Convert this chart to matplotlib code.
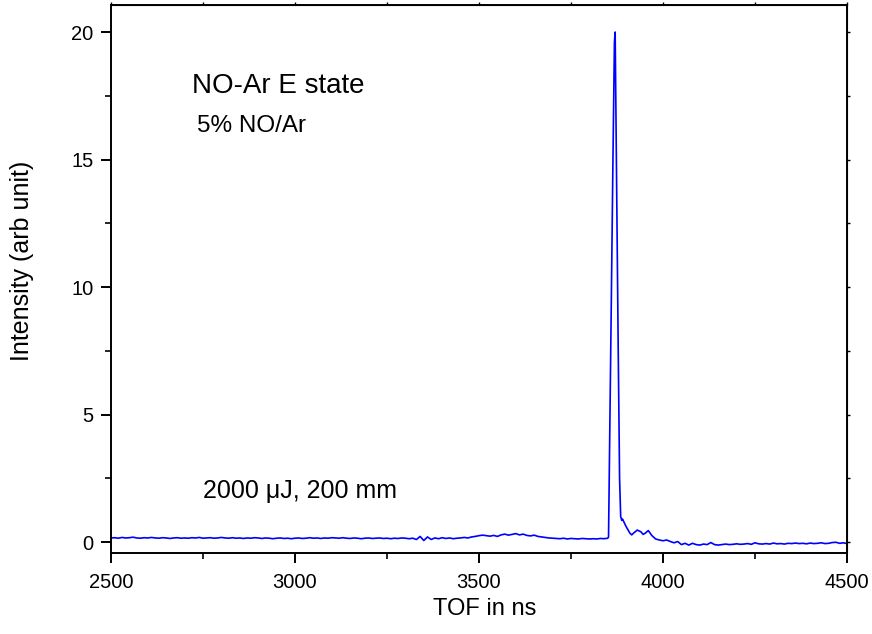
import matplotlib
matplotlib.use("Agg")
import matplotlib.pyplot as plt
from matplotlib.ticker import MultipleLocator

plt.rcParams['font.family'] = ['Liberation Sans', 'DejaVu Sans']

# ---- data ----
base_x = list(range(2500, 3860, 10))
base_y = [
    0.16, 0.17, 0.15, 0.18, 0.16, 0.17, 0.19, 0.16, 0.15, 0.17, 0.16,
    0.18, 0.16, 0.15, 0.17, 0.16, 0.14, 0.16, 0.17, 0.15, 0.16,
    0.15, 0.17, 0.16, 0.18, 0.15, 0.16, 0.17, 0.15, 0.16, 0.18,
    0.16, 0.15, 0.17, 0.15, 0.16, 0.14, 0.16, 0.15, 0.17, 0.16,
    0.14, 0.16, 0.15, 0.13, 0.15, 0.16, 0.14, 0.15, 0.13, 0.15,
    0.16, 0.14, 0.15, 0.17, 0.15, 0.16, 0.14, 0.16, 0.15, 0.17,
    0.16, 0.15, 0.17, 0.15, 0.14, 0.16, 0.15, 0.13, 0.15, 0.16,
    0.14, 0.15, 0.16, 0.14, 0.15, 0.13, 0.15, 0.14, 0.16, 0.15,
    0.13, 0.15, 0.10, 0.22, 0.06, 0.20, 0.10, 0.16, 0.13, 0.17,
    0.14, 0.16, 0.13, 0.15, 0.16, 0.18, 0.16, 0.20, 0.22, 0.25,
    0.27, 0.25, 0.23, 0.26, 0.22, 0.28, 0.31, 0.27, 0.30, 0.33,
    0.28, 0.31, 0.26, 0.24, 0.27, 0.22, 0.20, 0.18, 0.16, 0.15,
    0.14, 0.13, 0.15, 0.12, 0.14, 0.13, 0.12, 0.14, 0.13, 0.12,
    0.13, 0.12, 0.14, 0.13, 0.15,
]
peak_x = [3852, 3856, 3860, 3864, 3868, 3870, 3874, 3878, 3882, 3885, 3888]
peak_y = [0.20, 5.0, 10.0, 15.0, 19.6, 20.0, 14.0, 8.0, 2.5, 1.0, 0.85]
tail_x = [3890, 3895, 3900, 3910, 3915, 3920, 3930, 3940, 3946, 3952, 3960, 3970,
          3980, 3990] + list(range(4000, 4510, 10))
tail_y = [0.90, 0.75, 0.60, 0.35, 0.28, 0.35, 0.47, 0.40, 0.30, 0.35, 0.45, 0.25,
          0.12, 0.08,
          0.05, 0.08, 0.02, -0.03, 0.02, -0.10, -0.05, -0.12, -0.05, -0.10,
          -0.12, -0.08, -0.10, -0.02, -0.10, -0.12, -0.10, -0.08, -0.10, -0.09,
          -0.07, -0.09, -0.08, -0.06, -0.09, -0.03, -0.07, -0.08, -0.06, -0.08,
          -0.04, -0.07, -0.06, -0.08, -0.05, -0.06, -0.04, -0.06, -0.05, -0.07,
          -0.04, -0.06, -0.05, -0.03, -0.06, -0.05, -0.02, -0.01, -0.05, -0.03,
          -0.06]

tof = base_x + peak_x + tail_x
intensity = base_y + peak_y + tail_y

x_label = "TOF in ns"
y_label = "Intensity (arb unit)"
title_text = "NO-Ar E state"
mix_text = "5% NO/Ar"
cond_text = "2000 \u03bcJ, 200 mm"

# ---- figure ----
fig = plt.figure(figsize=(8.72, 6.34), dpi=100)
ax = fig.add_axes([111/872, 81/634, 736/872, 548/634])
ax.plot(tof, intensity, color='#0000ff', lw=1.2)

ax.set_xlim(2500, 4500)
ax.set_ylim(-0.43, 21.06)
ax.xaxis.set_major_locator(MultipleLocator(500))
ax.xaxis.set_minor_locator(MultipleLocator(250))
ax.yaxis.set_major_locator(MultipleLocator(5))
ax.yaxis.set_minor_locator(MultipleLocator(2.5))

for s in ax.spines.values():
    s.set_linewidth(1.4)

ax.tick_params(which='major', direction='out', length=7.5, width=1.4, labelsize=14.5,
               top=False, right=False)
ax.tick_params(which='minor', direction='out', length=4.5, width=1.2,
               top=False, right=False)
ax.tick_params(axis='x', which='major', pad=7)
ax.tick_params(axis='y', which='major', pad=5)
# tiny ticks on top and right
axt = ax.secondary_xaxis('top')
axt.xaxis.set_major_locator(MultipleLocator(500))
axt.xaxis.set_minor_locator(MultipleLocator(250))
axt.tick_params(which='both', direction='out', length=2, width=1.0, labeltop=False)
axr = ax.secondary_yaxis('right')
axr.yaxis.set_major_locator(MultipleLocator(5))
axr.yaxis.set_minor_locator(MultipleLocator(2.5))
axr.tick_params(which='both', direction='out', length=2, width=1.0, labelright=False)

ax.set_xlabel(x_label, fontsize=17)
ax.set_ylabel(y_label, fontsize=18)
ax.xaxis.set_label_coords(0.508, -0.082)
ax.yaxis.set_label_coords(-0.1046, 0.533)

ax.text(2720, 17.9, title_text, fontsize=20, va='center', ha='left')
ax.text(2734, 16.3, mix_text, fontsize=17.5, va='center', ha='left')
ax.text(2750, 2.0, cond_text, fontsize=18, va='center', ha='left')

fig.savefig("out.png", dpi=100)
